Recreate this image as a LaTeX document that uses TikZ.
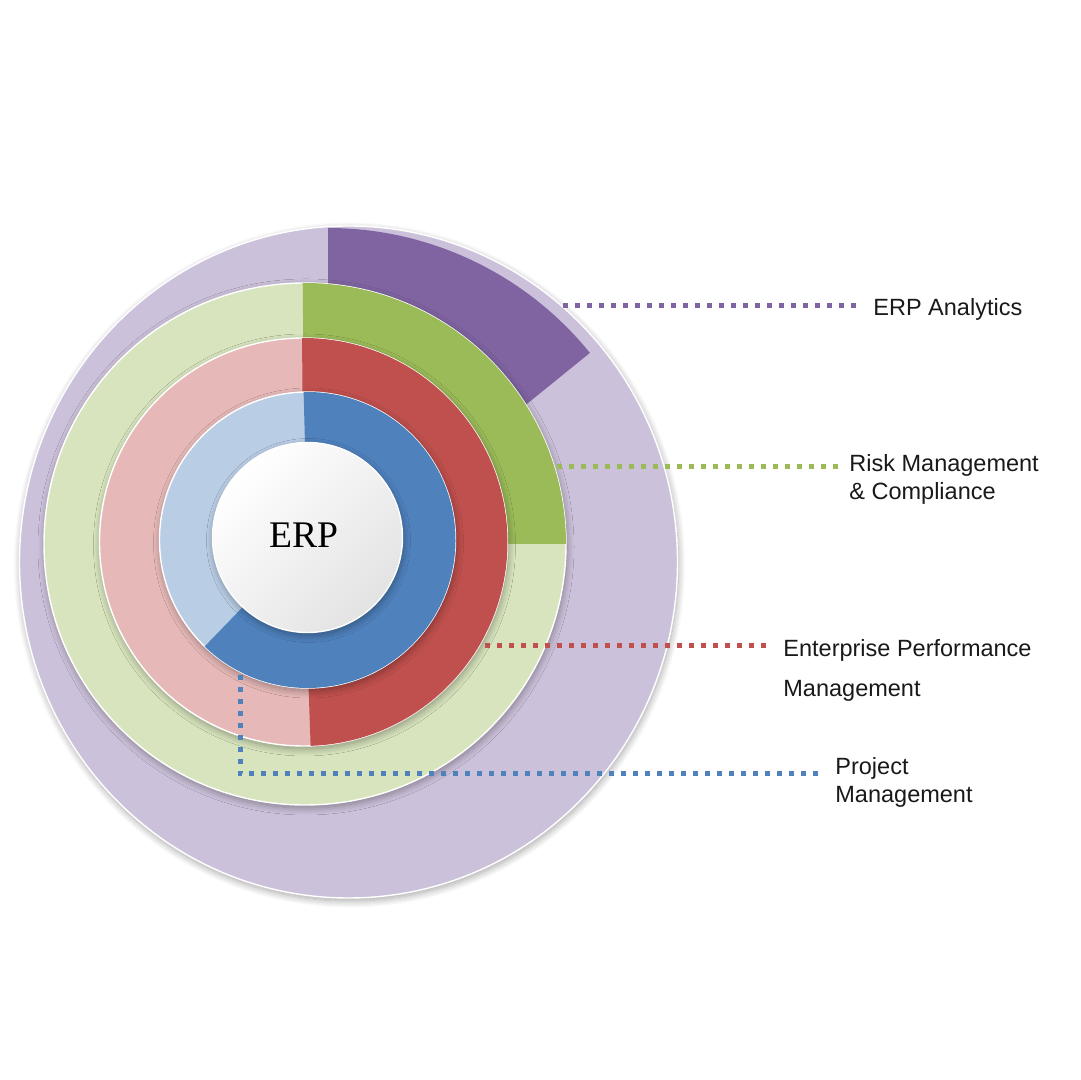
\documentclass[tikz,border=0pt]{standalone}
\usepackage{fontspec}
\setmainfont{Liberation Serif}
\setsansfont{Liberation Sans}
\usetikzlibrary{shadows.blur}
\definecolor{purD}{HTML}{8064A2}
\definecolor{purL}{HTML}{CCC1DA}
\definecolor{grnD}{HTML}{9BBB59}
\definecolor{grnL}{HTML}{D7E4BD}
\definecolor{redD}{HTML}{C0504D}
\definecolor{redL}{HTML}{E6B9B8}
\definecolor{bluD}{HTML}{4F81BD}
\definecolor{bluL}{HTML}{B9CDE5}
\begin{document}
\begin{tikzpicture}
	[x=0.5pt,y=0.5pt,
	disk/.style={draw=white,line width=0.7pt,blur shadow={shadow xshift=0.5pt,shadow yshift=-1.5pt,shadow blur radius=3.5pt,shadow blur steps=12,shadow opacity=35}},
	lbl/.style={font=\sffamily\fontsize{11.75}{14}\selectfont,align=left,anchor=base west,inner xsep=5.5pt,inner ysep=0pt,text=black!90},
	link/.style={line width=2.5pt,dash pattern=on 2.5pt off 3.5pt}]
	\useasboundingbox (0,0) rectangle (1080,1080);
	% ring centres
	\coordinate (cP) at (348.5,518);
	\coordinate (cW) at (328,515);
	\coordinate (cG) at (305,536);
	\coordinate (cR) at (303.5,538);
	\coordinate (cB) at (307.5,540);
	\coordinate (cE) at (307.5,542.5);
	% analytics
	\fill [purL,disk] (cP) ellipse [x radius=329,y radius=336];
	\fill [purD] (cW) -- ++(39:337) arc [start angle=39,end angle=90,radius=337] -- cycle;
	% risk
	\fill [grnL,disk] (cG) circle [radius=261];
	\fill [grnD] (cG) -- ++(0:261) arc [start angle=0,end angle=90.5,radius=261] -- cycle;
	% performance
	\fill [redL,disk] (cR) circle [radius=204];
	\fill [redD] (cR) -- ++(-88:204) arc [start angle=-88,end angle=90.4,radius=204] -- cycle;
	% project
	\fill [bluL,disk] (cB) circle [radius=148];
	\fill [bluD] (cB) -- ++(-134:148) arc [start angle=-134,end angle=91.5,radius=148] -- cycle;
	% centre
	\shade [disk,top color=white,bottom color=black!11,shading angle=45] (cE) circle [radius=95];
	\node at (303.5,544.5) (erp) {\fontsize{18.8}{22}\selectfont ERP};
	% labels (base = last line)
	\node at (862,764) [lbl] (lblA) {ERP Analytics};
	\node at (838,580) [lbl] (lblB) {Risk Management\\\& Compliance};
	\node at (772,383) [lbl] (lblC) {Enterprise Performance\\[6pt]Management};
	\node at (824,277) [lbl] (lblD) {Project\\Management};
	% connectors
	\coordinate (pA) at (563,774);
	\coordinate (pB) at (557,613);
	\coordinate (pC) at (485,434);
	\coordinate (pD) at (240,405);
	\coordinate (kD) at (240,306);
	\draw [link,purD] (pA) -- (pA -| lblA.west);
	\draw [link,grnD] (pB) -- (pB -| lblB.west);
	\draw [link,redD] (pC) -- (pC -| lblC.west);
	\draw [link,bluD] (pD) -- (kD) -- (kD -| lblD.west);
\end{tikzpicture}
\end{document}
